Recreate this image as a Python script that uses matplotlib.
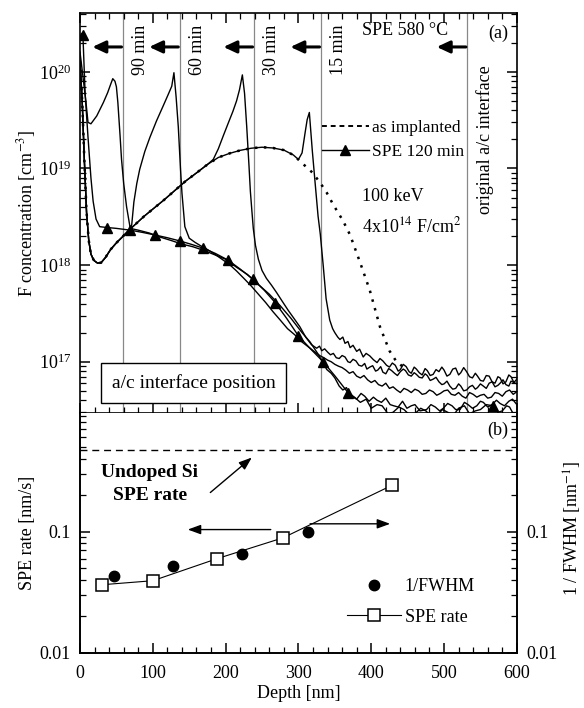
import matplotlib
matplotlib.use('Agg')
import matplotlib.pyplot as plt
from matplotlib.ticker import LogLocator, NullFormatter, MultipleLocator, FixedLocator, FixedFormatter
from matplotlib.lines import Line2D

plt.rcParams.update({
    'font.family': 'Liberation Serif',
    'mathtext.fontset': 'stix',
    'font.size': 13,
    'xtick.direction': 'in',
    'ytick.direction': 'in',
    'axes.linewidth': 1.2,
})

# ---- panel (a): F depth profiles ----
impl_x = [0, 3, 6, 9, 12, 15, 19, 24, 29, 35, 42, 50, 58, 66, 75, 88, 100, 115, 130, 145, 160, 175,
          190, 205, 220, 235, 250, 265, 280, 293, 306, 319, 330, 339, 348, 361, 371, 385, 398, 412,
          425, 434, 444]
impl_y = [1.3e20, 5e19, 1.2e19, 3.5e18, 1.8e18, 1.3e18, 1.12e18, 1.05e18, 1.06e18, 1.2e18, 1.45e18,
          1.7e18, 1.95e18, 2.25e18, 2.6e18, 3.2e18, 3.8e18, 4.7e18, 5.9e18, 7.4e18, 9.0e18, 1.1e19,
          1.3e19, 1.43e19, 1.54e19, 1.62e19, 1.66e19, 1.63e19, 1.55e19, 1.38e19, 1.12e19, 9.1e18,
          7.1e18, 5.6e18, 4.2e18, 2.9e18, 2.05e18, 1.05e18, 5.5e17, 2.3e17, 1.3e17, 1.02e17, 8.8e16]

seg15_x = [300, 305, 309, 312, 315, 319, 323, 327, 330, 334, 338, 343, 347, 350, 354, 357, 361, 364,
           368, 371, 375, 380, 384, 389, 393, 398, 403, 408, 412, 416, 421, 425, 429, 433, 437, 440,
           444, 448, 452, 455, 459, 462, 466, 470, 474, 477, 481, 485, 489, 493, 497, 500, 504, 508,
           512, 516, 520, 523, 527, 531, 535, 539, 543, 546, 550, 554, 558, 562, 566, 570, 574, 577,
           581, 585, 589, 592, 596, 600]
seg15_y = [1.24e19, 1.45e19, 2.3e19, 3.2e19, 3.8e19, 1.55e19, 7e18, 3.2e18, 2.1e18, 1.0e18, 4.5e17,
           2.7e17, 2.2e17, 2.0e17, 1.8e17, 1.7e17, 1.8e17, 1.55e17, 1.62e17, 1.4e17, 1.48e17, 1.28e17,
           1.35e17, 1.12e17, 1.22e17, 1.15e17, 1.05e17, 9.8e16, 1.08e17, 1.02e17, 9.2e16, 8.8e16,
           9.7e16, 9.2e16, 8.0e16, 8.3e16, 9.4e16, 8.9e16, 7.9e16, 7.6e16, 8.8e16, 8.4e16, 7.7e16,
           7.3e16, 8.5e16, 8.1e16, 7.2e16, 7.4e16, 8.3e16, 7.9e16, 8.8e16, 8.2e16, 7.1e16, 7.4e16,
           8.4e16, 8.6e16, 7.3e16, 7.7e16, 8.7e16, 7.9e16, 7.0e16, 6.8e16, 7.6e16, 7.1e16, 6.4e16,
           6.3e16, 7.2e16, 7.1e16, 6.2e16, 6.0e16, 7.0e16, 6.8e16, 5.9e16, 6.2e16, 7.3e16, 7.0e16,
           6.1e16, 6.6e16]

seg30_x = [183, 190, 197, 204, 210, 215, 219, 223, 226, 229, 232, 234, 236, 238, 241, 245, 250, 256,
           263, 270, 278, 286, 294, 302, 310, 318, 325, 329, 332, 336, 340, 344, 348, 352, 356, 360,
           364, 368, 371, 375, 379, 383, 387, 391, 394, 398, 402, 406, 409, 413, 416, 420, 424, 428,
           432, 436, 440, 444, 447, 451, 455, 459, 462, 466, 470, 474, 477, 481, 485, 489, 493, 497,
           500, 504, 508, 512, 516, 520, 523, 527, 531, 535, 539, 543, 546, 550, 554, 558, 562, 566,
           570, 574, 577, 581, 585, 589, 592, 596, 600]
seg30_y = [1.24e19, 1.6e19, 2.2e19, 3.0e19, 3.9e19, 5e19, 6.5e19, 9.3e19, 6e19, 2.7e19, 1.1e19, 5.8e18,
           3.7e18, 2.4e18, 1.6e18, 1.15e18, 8.8e17, 7.3e17, 6.2e17, 5.2e17, 4.2e17, 3.4e17, 2.8e17,
           2.3e17, 1.8e17, 1.5e17, 1.38e17, 1.45e17, 1.3e17, 1.36e17, 1.26e17, 1.18e17, 1.22e17,
           1.1e17, 1.08e17, 1.16e17, 1.12e17, 1.0e17, 9.8e16, 1.06e17, 1.02e17, 9.2e16, 9.0e16, 9.6e16,
           8.4e16, 8.8e16, 9.1e16, 8.0e16, 8.2e16, 8.9e16, 7.8e16, 7.5e16, 8.5e16, 8.1e16, 7.6e16,
           7.2e16, 7.9e16, 8.4e16, 8.1e16, 7.3e16, 7.1e16, 7.7e16, 7.4e16, 6.9e16, 6.8e16, 7.5e16,
           7.2e16, 6.4e16, 6.6e16, 6.9e16, 6.2e16, 5.8e16, 5.9e16, 6.3e16, 5.6e16, 5.2e16, 5.3e16,
           5.9e16, 5.6e16, 5.0e16, 5.1e16, 5.5e16, 5.7e16, 5.2e16, 5.4e16, 5.9e16, 5.6e16, 5.3e16,
           6.0e16, 6.2e16, 5.5e16, 5.7e16, 6.0e16, 6.5e16, 5.8e16, 5.6e16, 6.3e16, 6.1e16, 5.9e16]

seg60_x = [69, 71, 74, 78, 82, 89, 96, 105, 114, 121, 126, 129, 132, 135, 138, 140, 144, 150, 158,
           166, 175, 185, 195, 205, 215, 225, 235, 245, 255, 265, 275, 285, 295, 305, 315, 325, 330,
           335, 340, 345, 350, 355, 360, 365, 370, 375, 380, 385, 390, 395, 400, 405, 410, 415, 420,
           425, 430, 435, 440, 445, 450, 455, 460, 465, 470, 475, 480, 485, 490, 495, 500, 505, 510,
           515, 520, 525, 530, 535, 540, 545, 550, 555, 560, 565, 570, 575, 580, 585, 590, 595, 600]
seg60_y = [2.4e18, 2.6e18, 4.5e18, 7e18, 9.8e18, 1.5e19, 2.1e19, 3.1e19, 4.4e19, 5.8e19, 7.1e19,
           9.8e19, 5.5e19, 2.7e19, 1.0e19, 5.6e18, 2.5e18, 1.9e18, 1.72e18, 1.58e18, 1.45e18, 1.3e18,
           1.15e18, 1.02e18, 8.7e17, 7.3e17, 6.1e17, 5.0e17, 4.1e17, 3.3e17, 2.7e17, 2.2e17, 1.9e17,
           1.6e17, 1.4e17, 1.22e17, 1.15e17, 1.1e17, 1.04e17, 1.0e17, 9.4e16, 9.0e16, 8.7e16, 8.2e16,
           7.6e16, 7.9e16, 7.1e16, 6.8e16, 7.2e16, 6.5e16, 6.1e16, 6.4e16, 5.8e16, 5.6e16, 6.0e16,
           5.3e16, 5.5e16, 5.1e16, 4.8e16, 5.3e16, 5.1e16, 4.8e16, 5.2e16, 5.0e16, 4.6e16, 4.7e16,
           5.1e16, 4.9e16, 4.5e16, 4.7e16, 5.0e16, 5.1e16, 4.6e16, 4.5e16, 4.8e16, 4.4e16, 4.2e16,
           4.8e16, 4.6e16, 4.3e16, 4.5e16, 4.6e16, 4.2e16, 4.3e16, 4.8e16, 4.7e16, 4.4e16, 4.9e16,
           5.1e16, 4.6e16, 4.9e16]

min90_x = [0, 4, 8, 11, 15, 23, 32, 38, 42, 45, 48, 50, 52, 55, 57, 60, 64, 69, 80, 95, 110, 125,
           140, 155, 170, 185, 200, 215, 230, 245, 260, 275, 290, 305, 316, 327, 339, 345, 350, 356,
           361, 366, 370, 375, 380, 386, 391, 397, 403, 408, 414, 420, 426, 431, 437, 443, 449, 455,
           460, 467, 476, 482, 488, 494, 499, 505, 511, 516, 522, 528, 533, 539, 545, 550, 554, 560,
           566, 572, 577, 583, 589, 594, 600]
min90_y = [1.6e20, 9e19, 5e19, 3e19, 2.9e19, 3.5e19, 4.8e19, 6.1e19, 7.4e19, 8.5e19, 8.0e19, 7e19,
           4.8e19, 2.2e19, 1.25e19, 7e18, 4e18, 2.4e18, 2.3e18, 2.15e18, 1.95e18, 1.8e18, 1.65e18,
           1.55e18, 1.42e18, 1.28e18, 1.15e18, 9.5e17, 8e17, 6.3e17, 5e17, 3.8e17, 2.8e17, 2.0e17,
           1.6e17, 1.2e17, 8.3e16, 7.6e16, 6.8e16, 5.6e16, 5.1e16, 5.4e16, 4.6e16, 4.3e16, 4.1e16,
           4.7e16, 4.4e16, 3.9e16, 4.3e16, 4.0e16, 3.8e16, 4.2e16, 3.6e16, 3.5e16, 3.4e16, 3.9e16,
           3.3e16, 3.5e16, 3.6e16, 3.1e16, 3.2e16, 3.6e16, 3.4e16, 3.1e16, 3.3e16, 3.7e16, 3.5e16,
           3.2e16, 3.2e16, 3.8e16, 3.6e16, 3.3e16, 3.5e16, 3.9e16, 3.8e16, 3.4e16, 3.6e16, 4.0e16,
           3.7e16, 3.5e16, 3.9e16, 4.1e16, 3.6e16]

min120_x = [0, 2, 4, 7, 11, 15, 18, 22, 27, 37, 50, 69, 86, 103, 120, 137, 153, 169, 186, 203, 220,
            238, 253, 268, 284, 300, 317, 334, 351, 368, 377, 385, 393, 400, 408, 415, 423, 430, 438,
            445, 453, 460, 468, 475, 483, 490, 498, 505, 513, 520, 528, 535, 543, 550, 558, 567, 574,
            580, 586, 590, 595, 600]
min120_y = [2.2e20, 2.5e20, 2.4e20, 6e19, 2.1e19, 8e18, 4.6e18, 3e18, 2.5e18, 2.45e18, 2.4e18,
            2.3e18, 2.18e18, 2.05e18, 1.92e18, 1.78e18, 1.64e18, 1.5e18, 1.32e18, 1.13e18, 9.1e17,
            7.1e17, 5.5e17, 4.1e17, 2.8e17, 1.85e17, 1.35e17, 1.0e17, 7e16, 4.8e16, 4.3e16, 3.8e16,
            4.1e16, 3.3e16, 3.6e16, 3.5e16, 2.9e16, 3.0e16, 3.4e16, 3.2e16, 2.8e16, 2.9e16, 3.3e16,
            3.1e16, 2.7e16, 2.8e16, 3.2e16, 3.0e16, 2.8e16, 3.3e16, 3.5e16, 2.9e16, 3.1e16, 3.2e16,
            3.6e16, 3.5e16, 3.0e16, 3.1e16, 3.5e16, 3.4e16, 2.9e16, 3.0e16]
tri_depths = [4, 37, 69, 103, 137, 169, 203, 238, 268, 300, 334, 368, 567]

interface_x = [59, 137, 239, 331, 532]
interface_lbl = ['90 min', '60 min', '30 min', '15 min']

# ---- panel (b): SPE rate and 1/FWHM ----
spe_x = [30, 100, 188, 279, 428]
spe_y = [0.0365, 0.0394, 0.0598, 0.089, 0.24]
fwhm_x = [47, 128, 223, 313]
fwhm_y = [0.0433, 0.0525, 0.066, 0.100]
undoped_rate = 0.47

fig = plt.figure(figsize=(5.84, 7.08), dpi=100)
ax = fig.add_axes([0.137, 0.4167, 0.748, 0.565])
axb = fig.add_axes([0.137, 0.0777, 0.748, 0.339])

# profiles
x15 = [x for x in impl_x if x < 296] + seg15_x
y15 = [y for x, y in zip(impl_x, impl_y) if x < 296] + seg15_y
x30 = [x for x in impl_x if x < 180] + seg30_x
y30 = [y for x, y in zip(impl_x, impl_y) if x < 180] + seg30_y
x60 = [x for x in impl_x if x < 68] + seg60_x
y60 = [y for x, y in zip(impl_x, impl_y) if x < 68] + seg60_y

lw = 1.0
ax.plot(impl_x, impl_y, color='k', lw=1.8, ls=(0, (1.0, 2.6)))
ax.plot(x15, y15, color='k', lw=lw)
ax.plot(x30, y30, color='k', lw=lw)
ax.plot(x60, y60, color='k', lw=lw)
ax.plot(min90_x, min90_y, color='k', lw=lw)
tri_idx = [min120_x.index(d) for d in tri_depths]
ax.plot(min120_x, min120_y, color='k', lw=lw, marker='^', ms=7, markevery=tri_idx)

for xi in interface_x:
    ax.axvline(xi, color='#888888', lw=0.9, zorder=0)
for xi, lbl in zip(interface_x, interface_lbl):
    ax.annotate(lbl, xy=(xi, 0.97), xycoords=('data', 'axes fraction'), xytext=(12.5, 0),
                textcoords='offset points', rotation=90, ha='center', va='top')
ax.annotate('original a/c interface', xy=(interface_x[-1], 0.87), xycoords=('data', 'axes fraction'),
            xytext=(13, 0), textcoords='offset points', rotation=90, ha='center', va='top')
for xi in interface_x:
    ax.annotate('', xy=(xi - 42, 0.915), xycoords=('data', 'axes fraction'),
                xytext=(xi - 2, 0.915), textcoords=('data', 'axes fraction'),
                arrowprops=dict(arrowstyle='-|>,head_length=0.6,head_width=0.28', lw=2.2, color='k',
                                shrinkA=0, shrinkB=0))

ax.text(0.645, 0.957, 'SPE 580 °C', transform=ax.transAxes, ha='left', va='center')
ax.text(0.957, 0.95, '(a)', transform=ax.transAxes, ha='center', va='center')
ax.text(0.645, 0.54, '100 keV', transform=ax.transAxes, ha='left', va='center')
ax.text(0.645, 0.4675, r'4x10$^{14}$ F/cm$^{2}$', transform=ax.transAxes, ha='left', va='center')
ax.text(0.26, 0.075, 'a/c interface position', transform=ax.transAxes, ha='center', va='center',
        fontsize=14, bbox=dict(boxstyle='square,pad=0.55', fc='white', ec='k', lw=1))

hA = [Line2D([], [], color='k', lw=1.4, ls=(0, (2.5, 2.0))),
      Line2D([], [], color='k', lw=lw, marker='^', ms=7)]
ax.legend(hA, ['as implanted', 'SPE 120 min'], loc='center left', bbox_to_anchor=(0.554, 0.6825),
          frameon=False, borderpad=0, borderaxespad=0, handlelength=2.7, handletextpad=0.2,
          labelspacing=0.4, numpoints=1, fontsize=12.5)

ax.set_yscale('log')
ax.set_xlim(0, 600)
ax.set_ylim(2.95e16, 4.07e20)
ax.set_ylabel('F concentration [cm$^{-3}$]')
ax.yaxis.set_label_coords(-0.097, 0.5)
ax.xaxis.set_major_locator(MultipleLocator(100))
ax.xaxis.set_minor_locator(MultipleLocator(20))
ax.yaxis.set_major_locator(LogLocator(base=10, numticks=10))
ax.yaxis.set_minor_locator(LogLocator(base=10, subs=range(2, 10), numticks=20))
ax.yaxis.set_minor_formatter(NullFormatter())
ax.tick_params(which='both', top=True, right=True, labelbottom=False)
ax.tick_params(axis='y', pad=6)
ax.tick_params(which='major', length=7, width=1.1)
ax.tick_params(which='minor', length=4, width=0.9)

# panel (b)
axb.plot(spe_x, spe_y, color='k', lw=0.8, marker='s', ms=8, mfc='white', mec='k', mew=1.1)
axb.axhline(undoped_rate, color='k', lw=1, ls=(0, (5, 3.5)))
axr = axb.twinx()
axr.plot(fwhm_x, fwhm_y, ls='none', marker='o', ms=7.5, color='k')

for a in (axb, axr):
    a.set_yscale('log')
    a.set_ylim(0.01, 0.95)
    a.yaxis.set_major_locator(FixedLocator([0.01, 0.1]))
    a.yaxis.set_major_formatter(FixedFormatter(['0.01', '0.1']))
    a.yaxis.set_minor_locator(LogLocator(base=10, subs=range(2, 10), numticks=20))
    a.yaxis.set_minor_formatter(NullFormatter())
    a.tick_params(which='major', length=7, width=1.1)
    a.tick_params(which='minor', length=4, width=0.9)
    a.tick_params(axis='y', pad=7)
axb.set_xlim(0, 600)
axb.xaxis.set_major_locator(MultipleLocator(100))
axb.xaxis.set_minor_locator(MultipleLocator(20))
axb.tick_params(which='both', top=False, right=False)
axb.tick_params(axis='x', pad=9)
axb.spines['top'].set_visible(False)
axr.spines['top'].set_visible(False)
axb.set_ylabel('SPE rate [nm/s]')
axb.yaxis.set_label_coords(-0.1, 0.5)
axr.set_ylabel('1 / FWHM [nm$^{-1}$]')
axr.yaxis.set_label_coords(1.103, 0.52)
axb.set_xlabel('Depth [nm]')
axb.xaxis.set_label_coords(0.5, -0.135)

axb.text(0.16, 0.704, 'Undoped Si\nSPE rate', transform=axb.transAxes, ha='center', va='center',
         fontweight='bold', fontsize=14, linespacing=1.4)
axb.text(0.957, 0.929, '(b)', transform=axb.transAxes, ha='center', va='center')
arr = dict(arrowstyle='-|>,head_length=0.6,head_width=0.22', lw=1.0, color='k', shrinkA=0, shrinkB=0)
axb.annotate('', xy=(236, 0.408), xytext=(179, 0.21), arrowprops=arr)
axb.annotate('', xy=(148, 0.104), xytext=(262, 0.104), arrowprops=arr)
axb.annotate('', xy=(426, 0.116), xytext=(316, 0.116), arrowprops=arr)

hB = [Line2D([], [], ls='none', marker='o', ms=7.5, color='k'),
      Line2D([], [], color='k', lw=0.8, marker='s', ms=8, mfc='white', mec='k', mew=1.1)]
axr.legend(hB, ['1/FWHM', 'SPE rate'], loc='center left', bbox_to_anchor=(0.611, 0.2125),
           frameon=False, borderpad=0, borderaxespad=0, handlelength=3.0, handletextpad=0.2,
           labelspacing=0.75, numpoints=1, fontsize=13)

fig.savefig('out.png', dpi=100)
